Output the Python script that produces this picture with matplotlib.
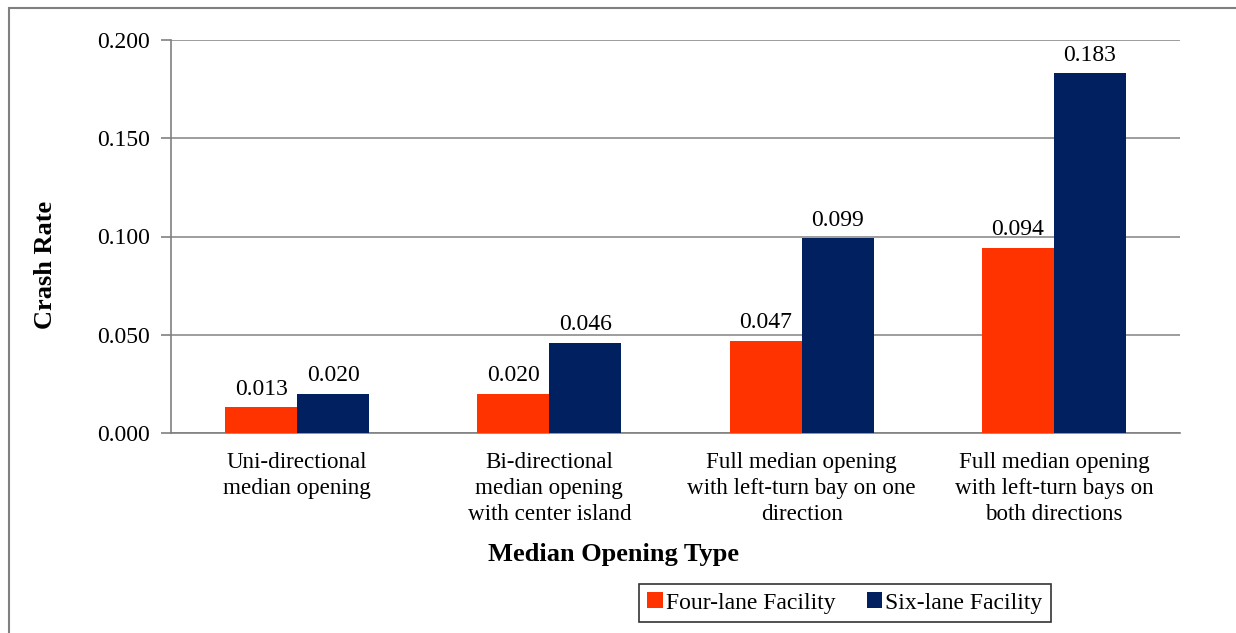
import matplotlib.pyplot as plt
import numpy as np
from matplotlib.patches import Rectangle

plt.rcParams['font.family'] = ['Liberation Serif', 'DejaVu Serif']

# crash rate per median opening type
categories = ['Uni-directional\nmedian opening',
              'Bi-directional\nmedian opening\nwith center island',
              'Full median opening\nwith left-turn bay on one\ndirection',
              'Full median opening\nwith left-turn bays on\nboth directions']
four_lane = [0.013, 0.020, 0.047, 0.094]
six_lane = [0.020, 0.046, 0.099, 0.183]
yticks = [0.0, 0.05, 0.10, 0.15, 0.20]

c_four = '#FF3300'
c_six = '#002060'

fig = plt.figure(figsize=(12.36, 6.33), dpi=100)
ax = fig.add_axes([171 / 1236, 1 - 433 / 633, (1180 - 171) / 1236, (433 - 40) / 633])

# outer chart frame
fig.patches.append(Rectangle((9 / 1236, -0.01), 1.05, 1 - 8 / 633 + 0.01,
                             transform=fig.transFigure, fill=False,
                             edgecolor='#808080', linewidth=1.5))

x = np.arange(len(categories))
w = 0.285
b1 = ax.bar(x - w / 2, four_lane, w, color=c_four, label='Four-lane Facility', zorder=3)
b2 = ax.bar(x + w / 2, six_lane, w, color=c_six, label='Six-lane Facility', zorder=3)

for bars, vals in ((b1, four_lane), (b2, six_lane)):
    for r, v in zip(bars, vals):
        ax.text(r.get_x() + r.get_width() / 2, v + 0.004, '%.3f' % v,
                ha='center', va='bottom', fontsize=17)

ax.set_xlim(-0.5, 3.5)
ax.set_ylim(0, 0.2)
ax.set_yticks(yticks)
ax.set_yticklabels(['%.3f' % t for t in yticks], fontsize=17)
ax.set_xticks(x)
ax.set_xticklabels(categories, fontsize=16.6, linespacing=1.3, va='top')
ax.tick_params(axis='x', length=0, pad=14)
ax.tick_params(axis='y', length=7, color='#808080', width=1.2, pad=8)
ax.grid(axis='y', color='#8c8c8c', linewidth=1.2, zorder=0)
for s in ['top', 'right']:
    ax.spines[s].set_visible(False)
ax.spines['left'].set_color('#808080')
ax.spines['bottom'].set_color('#808080')
ax.spines['left'].set_linewidth(1.2)
ax.spines['bottom'].set_linewidth(1.2)

fig.text(45 / 1236, 1 - 265 / 633, 'Crash Rate', fontsize=19, fontweight='bold',
         rotation=90, ha='center', va='center')
fig.text(614 / 1236, 1 - 555 / 633, 'Median Opening Type', fontsize=19,
         fontweight='bold', ha='center', va='center')

leg = fig.legend(handles=[b1, b2], loc='center', ncol=2,
                 bbox_to_anchor=(845 / 1236, 1 - 603 / 633), fontsize=17,
                 frameon=True, fancybox=False, edgecolor='black',
                 handlelength=0.65, handleheight=0.65, handletextpad=0.15,
                 columnspacing=1.3, borderpad=0.35, borderaxespad=0)
leg.get_frame().set_linewidth(1.2)

fig.savefig('out.png', dpi=100)
